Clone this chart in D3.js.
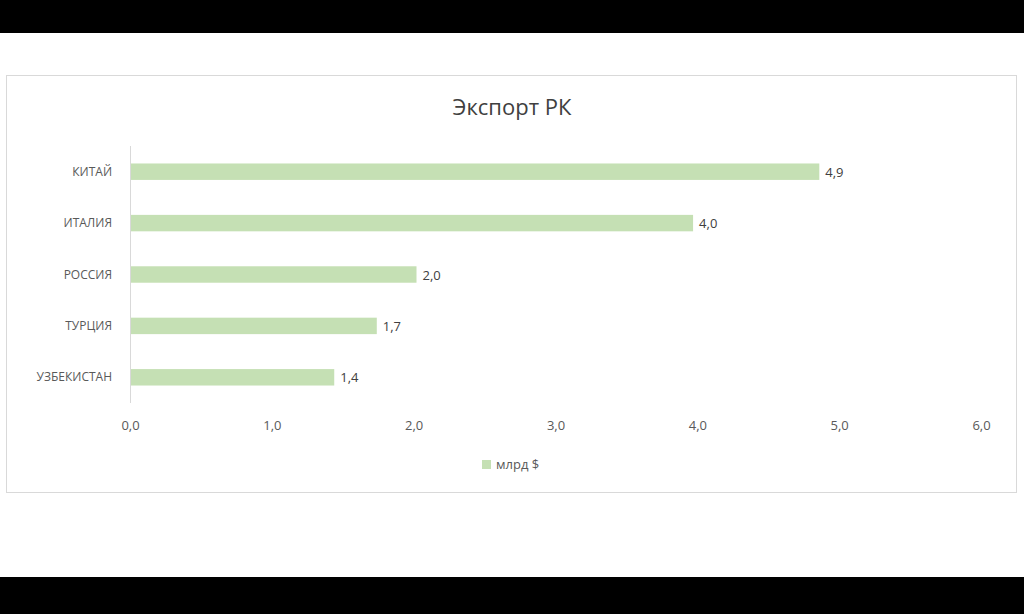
<!DOCTYPE html>
<html lang="ru">
<head>
<meta charset="UTF-8" />
<script src="https://cdn.jsdelivr.net/npm/d3@7/dist/d3.min.js"></script>
<style>
  body { margin: 0; background: #000; }
  text { font-family: "Open Sans", "DejaVu Sans", sans-serif; }
</style>
</head>
<body>
<svg width="1024" height="614"></svg>
<script>
  var categories = ["КИТАЙ", "ИТАЛИЯ", "РОССИЯ", "ТУРЦИЯ", "УЗБЕКИСТАН"];
  var values = [4.86, 3.97, 2.02, 1.74, 1.44];
  var valueLabels = ["4,9", "4,0", "2,0", "1,7", "1,4"];
  var ticks = [0, 1, 2, 3, 4, 5, 6];
  var seriesName = "млрд $";

  var svg = d3.select("svg");
  svg.append("rect").attr("x", 0).attr("y", 33).attr("width", 1024).attr("height", 544).attr("fill", "#fff");
  svg.append("rect").attr("x", 6.5).attr("y", 75.5).attr("width", 1010).attr("height", 417)
    .attr("fill", "#fff").attr("stroke", "#d9d9d9");

  svg.append("text").attr("x", 512).attr("y", 115).attr("text-anchor", "middle")
    .attr("font-size", 22).attr("fill", "#404040").text("Экспорт РК");

  var x = d3.scaleLinear().domain([0, 6]).range([130, 981]);
  var y = d3.scaleBand().domain(categories).range([146, 403]).paddingInner(0.68).paddingOuter(0.34);

  svg.append("line").attr("x1", 130.5).attr("x2", 130.5).attr("y1", 146).attr("y2", 403)
    .attr("stroke", "#d9d9d9");

  svg.selectAll(".bar").data(values).enter().append("rect")
    .attr("x", x(0) + 1)
    .attr("y", function (d, i) { return y(categories[i]); })
    .attr("width", function (d) { return x(d) - x(0) - 1; })
    .attr("height", y.bandwidth())
    .attr("fill", "#c5e0b4");

  svg.selectAll(".vl").data(values).enter().append("text")
    .attr("x", function (d) { return x(d) + 6; })
    .attr("y", function (d, i) { return y(categories[i]) + y.bandwidth() / 2 + 5; })
    .attr("font-size", 13).attr("fill", "#404040")
    .text(function (d, i) { return valueLabels[i]; });

  svg.selectAll(".cat").data(categories).enter().append("text")
    .attr("x", 112).attr("text-anchor", "end")
    .attr("y", function (d) { return y(d) + y.bandwidth() / 2 + 4; })
    .attr("font-size", 12).attr("fill", "#595959").text(function (d) { return d; });

  var xAxis = d3.axisBottom(x).tickValues(ticks).tickSize(0)
    .tickFormat(function (d) { return d3.format(".1f")(d).replace(".", ","); });
  var gx = svg.append("g").attr("transform", "translate(0,418)").call(xAxis);
  gx.select(".domain").remove();
  gx.selectAll("text").attr("font-size", 13).attr("fill", "#595959")
    .style("font-family", "'Open Sans', 'DejaVu Sans', sans-serif");

  svg.append("rect").attr("x", 482).attr("y", 460).attr("width", 9).attr("height", 9).attr("fill", "#c5e0b4");
  svg.append("text").attr("x", 496).attr("y", 469).attr("font-size", 13).attr("fill", "#595959").text(seriesName);
</script>
</body>
</html>
